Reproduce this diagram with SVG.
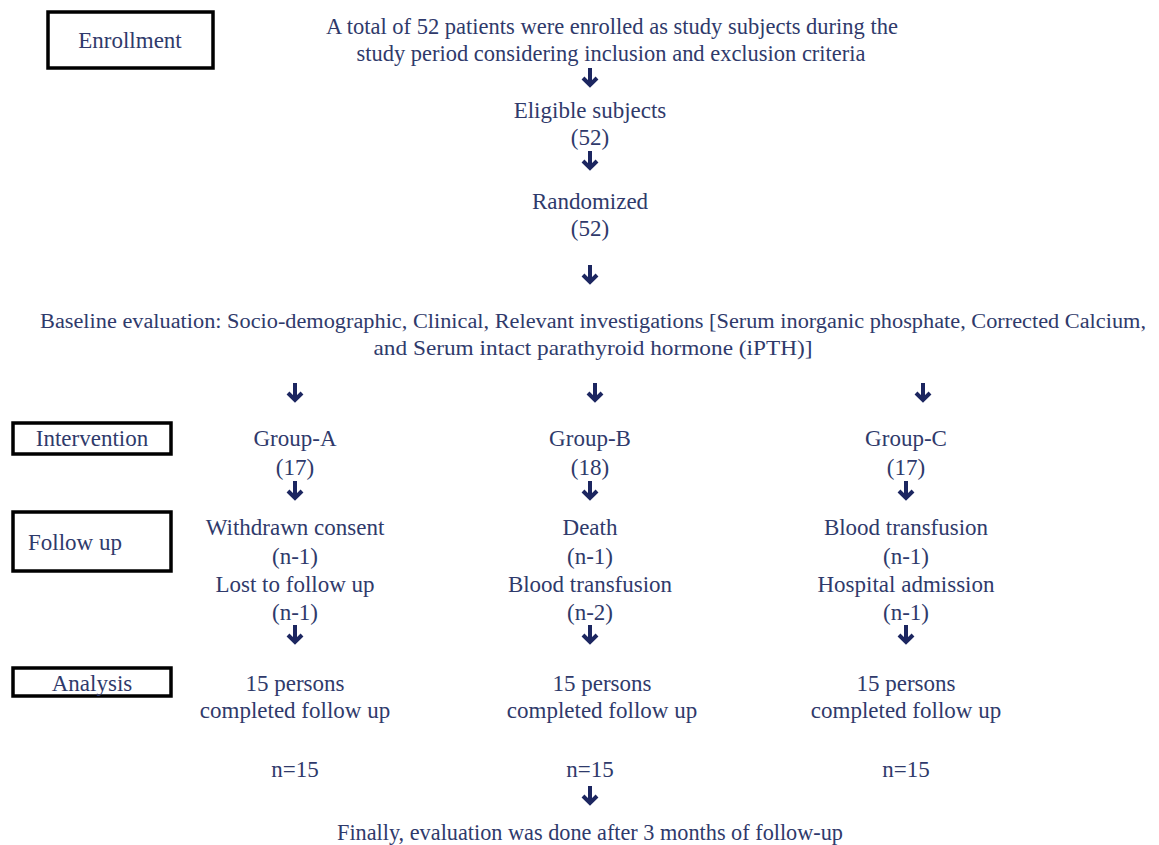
<svg xmlns="http://www.w3.org/2000/svg" width="1159" height="845" viewBox="0 0 1159 845">
<style>
text{font-family:"Liberation Serif","Times New Roman",serif;font-size:23px;fill:#2f3a6b;text-anchor:middle}
.box{fill:#fff;stroke:#000;stroke-width:3.5}
.arr{fill:none;stroke:#1c2660;stroke-width:4;stroke-linecap:butt;stroke-linejoin:miter}
</style>
<defs>
<g id="ar"><path class="arr" d="M0,-9 V7 M-7,1 L0,8 L7,1"/></g>
</defs>
<rect width="1159" height="845" fill="#fff"/>
<g id="enrollment-box"><rect class="box" x="48" y="12" width="165" height="56"/><text x="130" y="48">Enrollment</text></g>
<g id="intervention-box"><rect class="box" x="13" y="423" width="158" height="31"/><text x="92" y="446">Intervention</text></g>
<g id="followup-box"><rect class="box" x="13" y="512" width="158" height="59"/><text x="28" y="550" style="text-anchor:start">Follow up</text></g>
<g id="analysis-box"><rect class="box" x="13" y="668" width="158" height="28"/><text x="92" y="691">Analysis</text></g>
<g id="total"><text x="612" y="34" textLength="572" lengthAdjust="spacingAndGlyphs">A total of 52 patients were enrolled as study subjects during the</text><text x="611" y="61" textLength="509" lengthAdjust="spacingAndGlyphs">study period considering inclusion and exclusion criteria</text></g>
<g id="eligible"><text x="590" y="118">Eligible subjects</text><text x="590" y="145">(52)</text></g>
<g id="randomized"><text x="590" y="209">Randomized</text><text x="590" y="236">(52)</text></g>
<g id="baseline"><text x="593" y="328" style="font-size:20.5px" textLength="1106" lengthAdjust="spacingAndGlyphs">Baseline evaluation: Socio-demographic, Clinical, Relevant investigations [Serum inorganic phosphate, Corrected Calcium,</text><text x="593" y="355" style="font-size:21px" textLength="439" lengthAdjust="spacingAndGlyphs">and Serum intact parathyroid hormone (iPTH)]</text></g>
<g id="groupA"><text x="295" y="446">Group-A</text><text x="295" y="475">(17)</text></g>
<g id="groupB"><text x="590" y="446">Group-B</text><text x="590" y="475">(18)</text></g>
<g id="groupC"><text x="906" y="446">Group-C</text><text x="906" y="475">(17)</text></g>
<g id="followA"><text x="295" y="535">Withdrawn consent</text><text x="295" y="564">(n-1)</text><text x="295" y="592">Lost to follow up</text><text x="295" y="620">(n-1)</text></g>
<g id="followB"><text x="590" y="535">Death</text><text x="590" y="564">(n-1)</text><text x="590" y="592">Blood transfusion</text><text x="590" y="620">(n-2)</text></g>
<g id="followC"><text x="906" y="535">Blood transfusion</text><text x="906" y="564">(n-1)</text><text x="906" y="592">Hospital admission</text><text x="906" y="620">(n-1)</text></g>
<g id="analysisA"><text x="295" y="691">15 persons</text><text x="295" y="718">completed follow up</text><text x="295" y="777">n=15</text></g>
<g id="analysisB"><text x="602" y="691">15 persons</text><text x="602" y="718">completed follow up</text><text x="590" y="777">n=15</text></g>
<g id="analysisC"><text x="906" y="691">15 persons</text><text x="906" y="718">completed follow up</text><text x="906" y="777">n=15</text></g>
<g id="final"><text x="590" y="840" textLength="506" lengthAdjust="spacingAndGlyphs">Finally, evaluation was done after 3 months of follow-up</text></g>
<g id="connectors">
<use href="#ar" x="590" y="77"/>
<use href="#ar" x="590" y="160"/>
<use href="#ar" x="590" y="274"/>
<use href="#ar" x="295" y="392"/>
<use href="#ar" x="595" y="392"/>
<use href="#ar" x="923" y="392"/>
<use href="#ar" x="295" y="490"/>
<use href="#ar" x="590" y="490"/>
<use href="#ar" x="906" y="490"/>
<use href="#ar" x="295" y="634"/>
<use href="#ar" x="590" y="634"/>
<use href="#ar" x="906" y="634"/>
<use href="#ar" x="590" y="795"/>
</g>
</svg>
